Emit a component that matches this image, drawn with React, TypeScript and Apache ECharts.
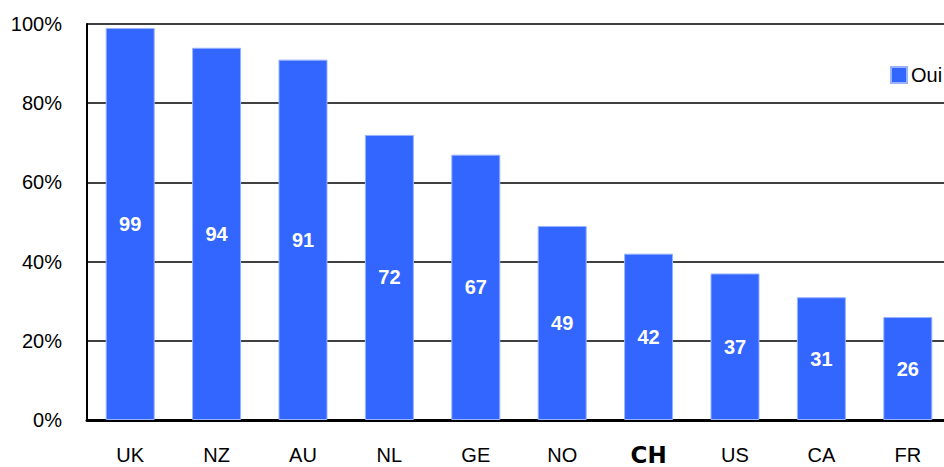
import React, { useEffect, useRef } from "react";
import * as echarts from "echarts";

const categories = ["UK", "NZ", "AU", "NL", "GE", "NO", "CH", "US", "CA", "FR"];
const ouiValues = [99, 94, 91, 72, 67, 49, 42, 37, 31, 26];
const seriesName = "Oui";
const yMin = 0;
const yMax = 100;
const yInterval = 20;

const FONT = "'Liberation Sans', Arial, sans-serif";

export default function App() {
  const ref = useRef<HTMLDivElement>(null);
  useEffect(() => {
    if (!ref.current) return;
    const chart = echarts.init(ref.current, null, { renderer: "svg" });
    chart.setOption({
      animation: false,
      backgroundColor: "#ffffff",
      textStyle: { fontFamily: FONT },
      grid: { left: 87, top: 24, width: 864, height: 396, containLabel: false },
      legend: {
        left: 890,
        top: 65,
        padding: 0,
        itemWidth: 16,
        itemHeight: 16,
        itemGap: 5,
        icon: "rect",
        textStyle: { fontFamily: FONT, fontSize: 20, color: "#000", padding: [0, 0, 0, -1] },
        data: [seriesName],
      },
      xAxis: {
        type: "category",
        data: categories,
        axisLine: { lineStyle: { color: "#000", width: 3 } },
        axisTick: { show: false },
        axisLabel: {
          interval: 0,
          margin: 25,
          fontFamily: FONT,
          fontSize: 20,
          lineHeight: 20,
          color: "#000",
          formatter: (v: string) => (v === "CH" ? "{ch|" + v + "}" : v),
          rich: {
            ch: {
              fontFamily: "'DejaVu Sans', Verdana, sans-serif",
              fontWeight: "bold",
              fontSize: 23,
              lineHeight: 20,
              color: "#000",
            },
          },
        },
      },
      yAxis: {
        type: "value",
        min: yMin,
        max: yMax,
        interval: yInterval,
        axisLine: { show: true, lineStyle: { color: "#000", width: 2 } },
        axisTick: { show: false },
        splitLine: { lineStyle: { color: "#000", width: 1.5 } },
        axisLabel: {
          margin: 25,
          fontFamily: FONT,
          fontSize: 20,
          color: "#000",
          formatter: (v: number) => v + "%",
        },
      },
      series: [
        {
          name: seriesName,
          type: "bar",
          data: ouiValues,
          barWidth: 49,
          itemStyle: { color: "#3366FF", borderColor: "#99B3FF", borderWidth: 1 },
          label: {
            show: true,
            position: "inside",
            color: "#fff",
            fontFamily: FONT,
            fontWeight: "bold",
            fontSize: 20,
          },
        },
      ],
    });
    return () => chart.dispose();
  }, []);
  return (
    <div style={{ width: 944, height: 467, position: "absolute", left: 0, top: 0, overflow: "hidden" }}>
      <div ref={ref} style={{ width: 960, height: 467 }} />
    </div>
  );
}
